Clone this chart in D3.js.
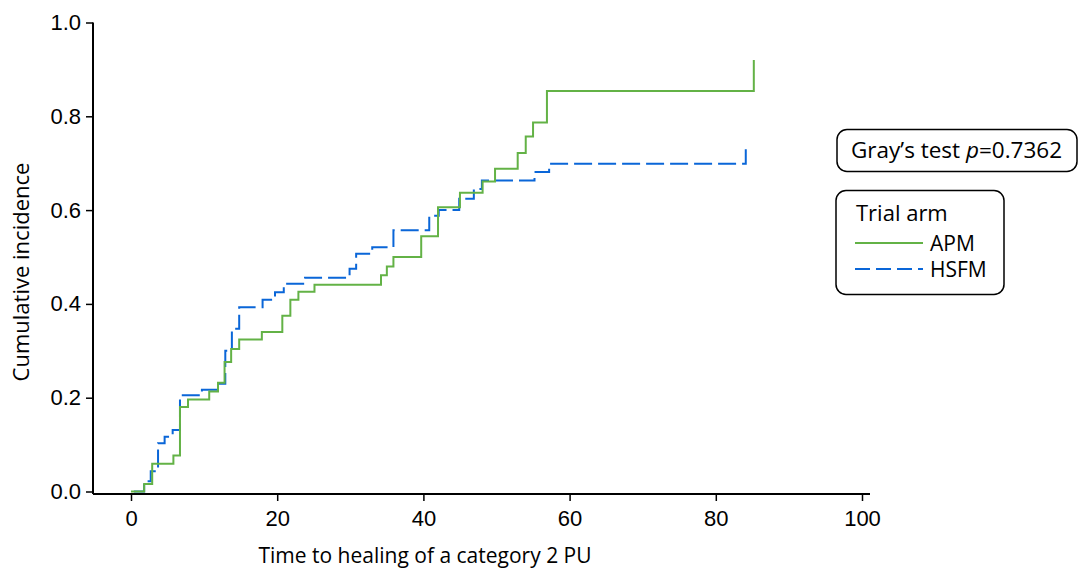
<!DOCTYPE html>
<html>
<head>
<meta charset="utf-8">
<script src="https://cdn.jsdelivr.net/npm/d3@7"></script>
<style>
  html, body { margin: 0; padding: 0; background: #fff; }
  svg { display: block; font-family: "Open Sans", "Noto Sans", sans-serif; }
  .axis path, .axis line { stroke: #000; }
  .axis text { fill: #000; font-size: 22px; }
</style>
</head>
<body>
<div id="chart"></div>
<script>
// step times (days) and cumulative incidence
const apmTimes = [0, 1.8, 2.9, 5.8, 6.7, 7.8, 10.7, 11.9, 12.8, 13.7, 14.8, 17.9, 20.7, 21.8, 22.9, 25.1,
  34.2, 35.0, 35.9, 39.7, 42.0, 45.0, 48.1, 49.8, 52.9, 54.0, 55.0, 56.9, 85.2];
const apmCif = [0, 0.016, 0.059, 0.077, 0.180, 0.196, 0.213, 0.232, 0.276, 0.304, 0.324, 0.340, 0.375, 0.409, 0.426, 0.441,
  0.461, 0.480, 0.500, 0.544, 0.606, 0.637, 0.661, 0.688, 0.722, 0.757, 0.787, 0.854, 0.920];

const hsfmTimes = [0.4, 1.8, 2.7, 3.7, 4.6, 5.7, 6.7, 9.7, 11.9, 12.9, 13.8, 14.8, 18.0, 19.7, 20.9, 23.8,
  29.9, 30.8, 33.0, 35.9, 40.8, 42.1, 44.9, 46.9, 48.0, 55.2, 57.2, 84.1];
const hsfmCif = [0, 0.022, 0.043, 0.103, 0.117, 0.131, 0.205, 0.217, 0.230, 0.300, 0.347, 0.393, 0.409, 0.425, 0.443, 0.456,
  0.475, 0.507, 0.521, 0.557, 0.588, 0.600, 0.624, 0.645, 0.663, 0.681, 0.699, 0.732];

const xTicks = [0, 20, 40, 60, 80, 100];
const yTicks = [0, 0.2, 0.4, 0.6, 0.8, 1.0];
const arms = ['APM', 'HSFM'];
const armColor = { APM: '#63b246', HSFM: '#0a66d8' };
const armDash = { APM: null, HSFM: '18,6' };

const W = 1078, H = 568;
const FS = 21;
const svg = d3.select('#chart').append('svg')
  .attr('width', W).attr('height', H)
  .attr('viewBox', `0 0 ${W} ${H}`);

const x = d3.scaleLinear().domain([0, 100]).range([131, 862]);
const y = d3.scaleLinear().domain([0, 1]).range([491.5, 22.5]);
const axisX0 = 93, axisY0 = 494;

// y axis
const gy = svg.append('g').attr('class', 'axis')
  .attr('transform', `translate(${axisX0},0)`)
  .call(d3.axisLeft(y).tickValues(yTicks).tickFormat(d3.format('.1f')).tickSize(7).tickSizeOuter(0).tickPadding(5));
gy.select('.domain').attr('d', `M0,${y(1)}V${axisY0}`).attr('stroke-width', 2);
gy.selectAll('.tick line').attr('stroke-width', 1.5);

// x axis
const gx = svg.append('g').attr('class', 'axis')
  .attr('transform', `translate(0,${axisY0})`)
  .call(d3.axisBottom(x).tickValues(xTicks).tickSize(7).tickSizeOuter(0).tickPadding(9));
gx.select('.domain').attr('d', `M${axisX0},0H870`).attr('stroke-width', 2);
gx.selectAll('.tick line').attr('stroke-width', 1.5);

svg.append('text')
  .attr('x', 425).attr('y', 563)
  .attr('text-anchor', 'middle').attr('font-size', FS)
  .text('Time to healing of a category 2 PU');

svg.append('text')
  .attr('transform', `translate(29,272) rotate(-90)`)
  .attr('text-anchor', 'middle').attr('font-size', 22)
  .text('Cumulative incidence');

// curves
const series = {
  APM: apmTimes.map((t, i) => [t, apmCif[i]]),
  HSFM: hsfmTimes.map((t, i) => [t, hsfmCif[i]])
};
const line = d3.line().x(d => x(d[0])).y(d => y(d[1])).curve(d3.curveStepAfter);

['HSFM', 'APM'].forEach(k => {
  svg.append('path')
    .datum(series[k])
    .attr('d', line)
    .attr('fill', 'none')
    .attr('stroke', armColor[k])
    .attr('stroke-width', 2)
    .attr('stroke-dasharray', armDash[k]);
});

// Gray's test box
const gt = svg.append('g');
gt.append('rect')
  .attr('x', 837).attr('y', 129.5).attr('width', 240).attr('height', 42).attr('rx', 10)
  .attr('fill', '#fff').attr('stroke', '#000').attr('stroke-width', 1.5);
const gtText = gt.append('text').attr('x', 851).attr('y', 158).attr('font-size', 22.5);
gtText.append('tspan').text('Gray\u2019s test ');
gtText.append('tspan').attr('font-style', 'italic').text('p');
gtText.append('tspan').text('=0.7362');

// legend
const lg = svg.append('g');
lg.append('rect')
  .attr('x', 836).attr('y', 190.5).attr('width', 168).attr('height', 104).attr('rx', 10)
  .attr('fill', '#fff').attr('stroke', '#000').attr('stroke-width', 1.5);
lg.append('text').attr('x', 856).attr('y', 221).attr('font-size', 22).text('Trial arm');
arms.forEach((k, i) => {
  const yy = 243 + i * 26;
  lg.append('line')
    .attr('x1', 855).attr('x2', 923).attr('y1', yy).attr('y2', yy)
    .attr('stroke', armColor[k]).attr('stroke-width', 2)
    .attr('stroke-dasharray', armDash[k] ? '15,6' : null);
  lg.append('text').attr('x', 930).attr('y', yy + 8).attr('font-size', FS).text(k);
});
</script>
</body>
</html>
